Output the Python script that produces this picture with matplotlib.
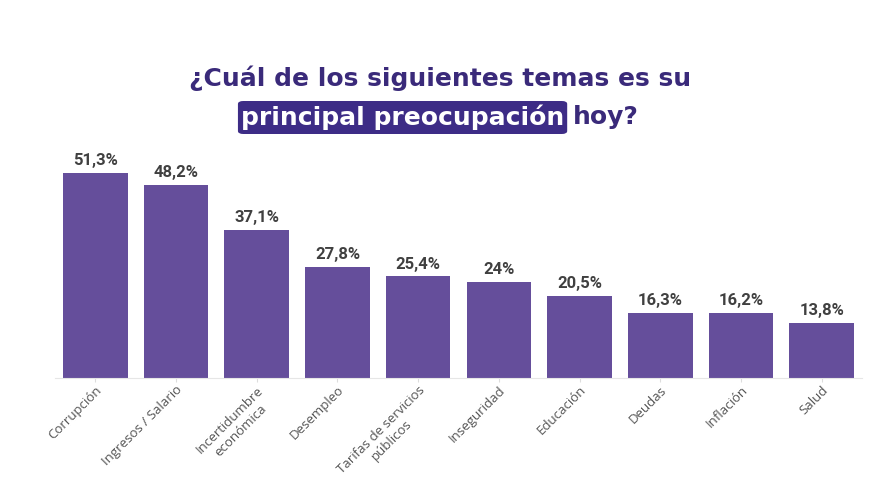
import matplotlib
matplotlib.use("Agg")
import matplotlib.pyplot as plt
from matplotlib.patches import FancyBboxPatch

categories = ["Corrupción", "Ingresos / Salario", "Incertidumbre\neconómica", "Desempleo",
              "Tarifas de servicios\npúblicos", "Inseguridad", "Educación", "Deudas",
              "Inflación", "Salud"]
values = [51.3, 48.2, 37.1, 27.8, 25.4, 24.0, 20.5, 16.3, 16.2, 13.8]
value_labels = ["51,3%", "48,2%", "37,1%", "27,8%", "25,4%", "24%", "20,5%", "16,3%", "16,2%", "13,8%"]

W, H = 886, 498
fig = plt.figure(figsize=(W / 100, H / 100), dpi=100)
fig.patch.set_facecolor("white")

ax = fig.add_axes([55 / W, 1 - 378 / H, (862 - 55) / W, (378 - 138) / H])
x = range(len(categories))
ax.bar(x, values, width=0.8, color="#654e9b")
ax.set_xlim(-0.5, len(categories) - 0.5)
ax.set_ylim(0, 60)
for xi, v, lab in zip(x, values, value_labels):
    ax.annotate(lab, (xi, v), xytext=(0, 3.5), textcoords="offset points",
                ha="center", va="bottom", fontsize=12, fontweight="bold",
                color="#404040", family="Roboto")
ax.set_xticks(list(x))
ax.set_xticklabels(categories, rotation=45, ha="right", rotation_mode="anchor",
                   fontsize=9.5, color="#555555", family="Open Sans", multialignment="center")
ax.tick_params(axis="x", length=3, color="#dddddd", pad=1)
ax.set_yticks([])
for s in ["top", "right", "left"]:
    ax.spines[s].set_visible(False)
ax.spines["bottom"].set_color("#e6e6e6")

title_color = "#3a2a7a"
tfont = dict(fontsize=18, fontweight="bold", family="DejaVu Sans")
fig.text(440 / W, 1 - 78 / H, "¿Cuál de los siguientes temas es su", ha="center", va="center",
         color=title_color, **tfont)

fig.canvas.draw()
r = fig.canvas.get_renderer()
t1 = fig.text(0, 1 - 117 / H, "principal preocupación", ha="left", va="center",
              color="white", **tfont)
t2 = fig.text(0, 1 - 117 / H, "hoy?", ha="left", va="center",
              color=title_color, **tfont)
w1 = t1.get_window_extent(r).width
w2 = t2.get_window_extent(r).width
gap = 9
total = w1 + gap + w2
x0 = 440 - total / 2
t1.set_x(x0 / W)
t2.set_x((x0 + w1 + gap) / W)
pad = 3
box = FancyBboxPatch(((x0 - pad) / W, 1 - 134 / H), (w1 + 2 * pad) / W, 33 / H,
                     boxstyle="round,pad=0,rounding_size=0.006", transform=fig.transFigure,
                     facecolor="#3d2c86", edgecolor="none", zorder=0)
fig.patches.append(box)

fig.savefig("out.png", dpi=100, facecolor="white")
